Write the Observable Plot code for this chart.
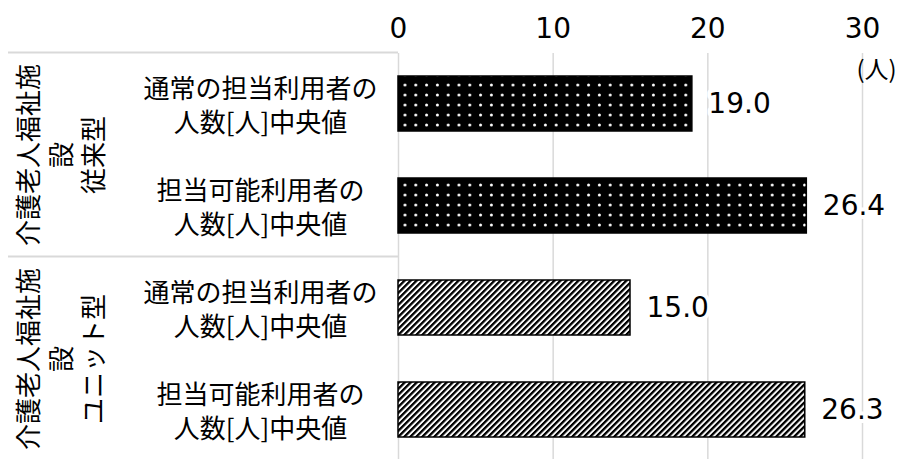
<!DOCTYPE html>
<html>
<head>
<meta charset="utf-8">
<script src="https://cdn.jsdelivr.net/npm/d3@7"></script>
<script src="https://cdn.jsdelivr.net/npm/@observablehq/plot@0.6"></script>
<style>
  body { margin: 0; background: #fff; }
</style>
</head>
<body>
<div id="chart"></div>
<script>
// Facility types (outer row groups) and the wrapped text drawn for each
const groups = ["介護老人福祉施設 従来型", "介護老人福祉施設 ユニット型"];
const groupLabels = ["介護老人福祉施\n設\n従来型", "介護老人福祉施\n設\nユニット型"];
// Measures (inner rows)
const items = ["通常の担当利用者の\n人数[人]中央値", "担当可能利用者の\n人数[人]中央値"];
// Median number of users per staff member, per group
const conventionalValues = [19.0, 26.4];
const unitValues = [15.0, 26.3];
const xTicks = [0, 10, 20, 30];
const unitLabel = "(人)";

const groupValues = [conventionalValues, unitValues];
const groupPatterns = ["dots", "stripes"];

const rows = groups.flatMap((g, gi) =>
  items.map((it, ii) => ({
    group: g,
    item: it,
    key: g + "|" + it,
    value: groupValues[gi][ii],
    pattern: groupPatterns[gi]
  }))
);
const groupRows = groups.map((g, gi) => ({
  key: g + "|" + items[0],
  label: groupLabels[gi]
}));

const jp = "'Noto Sans CJK JP', 'Noto Sans', sans-serif";
const num = "'DejaVu Sans', sans-serif";

const plot = Plot.plot({
  width: 903,
  height: 459,
  marginTop: 53,
  marginLeft: 398,
  marginRight: 41,
  marginBottom: 0,
  style: { fontFamily: jp, background: "#fff", color: "#000", overflow: "visible" },
  x: { domain: [0, 30], label: null },
  y: {
    type: "band",
    axis: null,
    domain: rows.map(d => d.key),
    range: [53, 461],
    paddingInner: 0.46,
    paddingOuter: 0.23,
    label: null
  },
  marks: [
    Plot.gridX(xTicks, { stroke: "#d9d9d9", strokeOpacity: 1, strokeWidth: 1.5 }),
    Plot.axisX(xTicks, {
      anchor: "top",
      label: null,
      tickSize: 0,
      tickPadding: 16,
      fontSize: 28,
      fontFamily: num,
      fill: "#000"
    }),
    Plot.barX(rows.filter(d => d.pattern === "dots"), {
      y: "key", x: "value", fill: "url(#dots)", stroke: "#000", strokeWidth: 1.5
    }),
    Plot.barX(rows.filter(d => d.pattern === "stripes"), {
      y: "key", x: "value", fill: "url(#stripes)", stroke: "#000", strokeWidth: 1.5
    }),
    Plot.text(rows, {
      y: "key", x: "value",
      text: d => d.value.toFixed(1),
      textAnchor: "start", dx: 16,
      fontSize: 28, fontFamily: num, fill: "#000",
      stroke: "#fff", strokeWidth: 8
    }),
    Plot.text(rows, {
      y: "key", text: "item",
      frameAnchor: "left", dx: -138,
      textAnchor: "middle", lineHeight: 1.3,
      fontSize: 26, fill: "#000"
    }),
    Plot.text(groupRows, {
      y: "key", text: "label",
      frameAnchor: "left", dx: -338, dy: 51,
      rotate: -90, textAnchor: "middle", lineHeight: 1.25,
      fontSize: 26, fill: "#000"
    }),
    Plot.text([unitLabel], {
      frameAnchor: "top-right", dx: 14, dy: 17,
      textAnchor: "middle", lineAnchor: "middle",
      fontSize: 24, fill: "#000"
    })
  ]
});

// Fill patterns for the two facility types
const svg = d3.select(plot);
const defs = svg.insert("defs", ":first-child");
const dots = defs.append("pattern")
  .attr("id", "dots").attr("patternUnits", "userSpaceOnUse")
  .attr("width", 10.8).attr("height", 10);
dots.append("rect").attr("width", 10.8).attr("height", 10).attr("fill", "#000");
dots.append("circle").attr("cx", 5.4).attr("cy", 5).attr("r", 1.5).attr("fill", "#fff");

const stripes = defs.append("pattern")
  .attr("id", "stripes").attr("patternUnits", "userSpaceOnUse")
  .attr("width", 4.24).attr("height", 4.24)
  .attr("patternTransform", "rotate(45)");
stripes.append("rect").attr("width", 4.24).attr("height", 4.24).attr("fill", "#fff");
stripes.append("rect").attr("width", 2.3).attr("height", 4.24).attr("fill", "#000");

// Group separator rules across the label columns
const ys = plot.scale("y");
const gap = ys.step - ys.bandwidth;
groups.forEach(g => {
  const y0 = ys.apply(g + "|" + items[0]) - gap / 2;
  svg.append("line")
    .attr("x1", 8).attr("x2", 398)
    .attr("y1", y0).attr("y2", y0)
    .attr("stroke", "#d9d9d9").attr("stroke-width", 2);
});

document.getElementById("chart").appendChild(plot);
</script>
</body>
</html>
